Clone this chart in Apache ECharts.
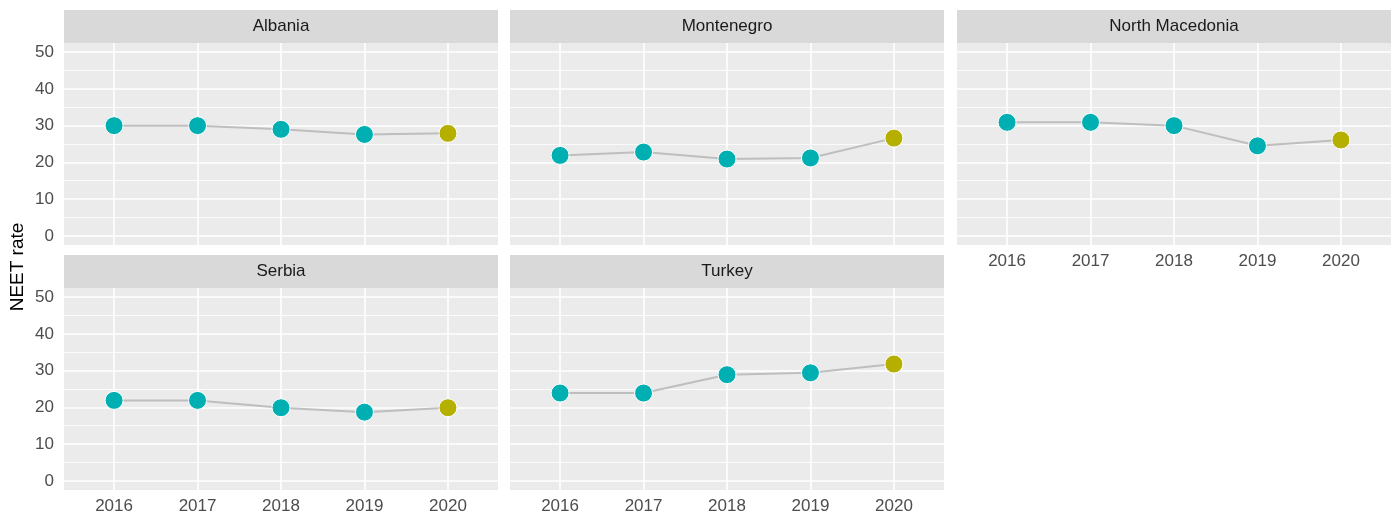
<!DOCTYPE html>
<html>
<head>
<meta charset="utf-8">
<script src="https://cdn.jsdelivr.net/npm/echarts@6/dist/echarts.min.js"></script>
<style>
  html, body { margin: 0; padding: 0; background: #fff; }
  #chart { width: 1394px; height: 515px; }
</style>
</head>
<body>
<div id="chart"></div>
<script>
// NEET rate by country, 2016-2020
const countries = ['Albania', 'Montenegro', 'North Macedonia', 'Serbia', 'Turkey'];
const years = [2016, 2017, 2018, 2019, 2020];
const albania = [30.0, 30.0, 29.0, 27.6, 27.9];
const montenegro = [21.9, 22.8, 20.9, 21.2, 26.6];
const northMacedonia = [30.9, 30.9, 30.0, 24.5, 26.1];
const serbia = [21.9, 21.9, 19.9, 18.7, 19.9];
const turkey = [23.9, 23.9, 28.9, 29.4, 31.8];
const seriesValues = [albania, montenegro, northMacedonia, serbia, turkey];
const yTicks = [0, 10, 20, 30, 40, 50];
const yMinor = [5, 15, 25, 35, 45];
const highlightYear = 2020;

const FONT = '"Liberation Sans", Arial, sans-serif';
const TEAL = '#00AFB1', OLIVE = '#B5AF00';

// facet layout (ggplot facet_wrap, 3 columns)
const colLeft = [64, 510, 957];
const colWidth = 434;
const rowTop = [43, 288];
const panelH = 202;
const stripH = 33;

const chart = echarts.init(document.getElementById('chart'));

const grids = [], xAxes = [], yAxes = [], series = [], graphics = [];

countries.forEach((name, i) => {
  const col = i % 3, row = Math.floor(i / 3);
  const left = colLeft[col], top = rowTop[row];
  // x labels on the bottom-most panel of each column
  const showX = row === 1 || col === 2;
  const showY = col === 0;

  grids.push({
    left: left, top: top, width: colWidth, height: panelH,
    show: true, backgroundColor: '#EBEBEB', borderWidth: 0
  });
  xAxes.push({
    gridIndex: i, type: 'value', min: 2015.4, max: 2020.6,
    axisLine: { show: false }, axisTick: { show: false }, splitLine: { show: false },
    axisLabel: {
      show: showX, customValues: years, formatter: v => String(v),
      color: '#4D4D4D', fontSize: 17, fontFamily: FONT, margin: 8
    }
  });
  yAxes.push({
    gridIndex: i, type: 'value', min: -2.5, max: 52.5,
    axisLine: { show: false }, axisTick: { show: false }, splitLine: { show: false },
    axisLabel: {
      show: showY, customValues: yTicks, formatter: v => String(v),
      color: '#4D4D4D', fontSize: 17, fontFamily: FONT, margin: 10
    }
  });

  // panel grid lines (kept under the data)
  series.push({
    type: 'line', xAxisIndex: i, yAxisIndex: i, data: [], silent: true, z: 1,
    markLine: {
      z: 1, silent: true, symbol: ['none', 'none'], label: { show: false }, animation: false,
      data: [
        ...yMinor.map(v => ({ yAxis: v, lineStyle: { color: '#fff', width: 0.8, type: 'solid' } })),
        ...yTicks.map(v => ({ yAxis: v, lineStyle: { color: '#fff', width: 1.6, type: 'solid' } })),
        ...years.map(v => ({ xAxis: v, lineStyle: { color: '#fff', width: 1.6, type: 'solid' } }))
      ]
    }
  });

  // data line + points
  series.push({
    type: 'line', name: name, xAxisIndex: i, yAxisIndex: i, z: 10,
    data: years.map((y, k) => ({
      value: [y, seriesValues[i][k]],
      itemStyle: { color: y === highlightYear ? OLIVE : TEAL }
    })),
    symbol: 'circle', symbolSize: 18,
    itemStyle: { borderColor: '#fff', borderWidth: 1 },
    lineStyle: { color: '#BEBEBE', width: 2 },
    animation: false
  });

  // strip
  graphics.push({
    type: 'rect', left: left, top: top - stripH,
    shape: { width: colWidth, height: stripH },
    style: { fill: '#D9D9D9' }, silent: true
  });
  graphics.push({
    type: 'text', x: left + colWidth / 2, y: top - stripH / 2,
    style: {
      text: name, fill: '#1A1A1A', font: '17px ' + FONT,
      textAlign: 'center', textVerticalAlign: 'middle'
    },
    silent: true
  });
});

// shared y-axis title
graphics.push({
  type: 'text', x: 18, y: 267, rotation: Math.PI / 2,
  style: {
    text: 'NEET rate', fill: '#000', font: '19px ' + FONT,
    textAlign: 'center', textVerticalAlign: 'middle'
  },
  silent: true
});

chart.setOption({
  animation: false,
  grid: grids,
  xAxis: xAxes,
  yAxis: yAxes,
  series: series,
  graphic: graphics
});
</script>
</body>
</html>
